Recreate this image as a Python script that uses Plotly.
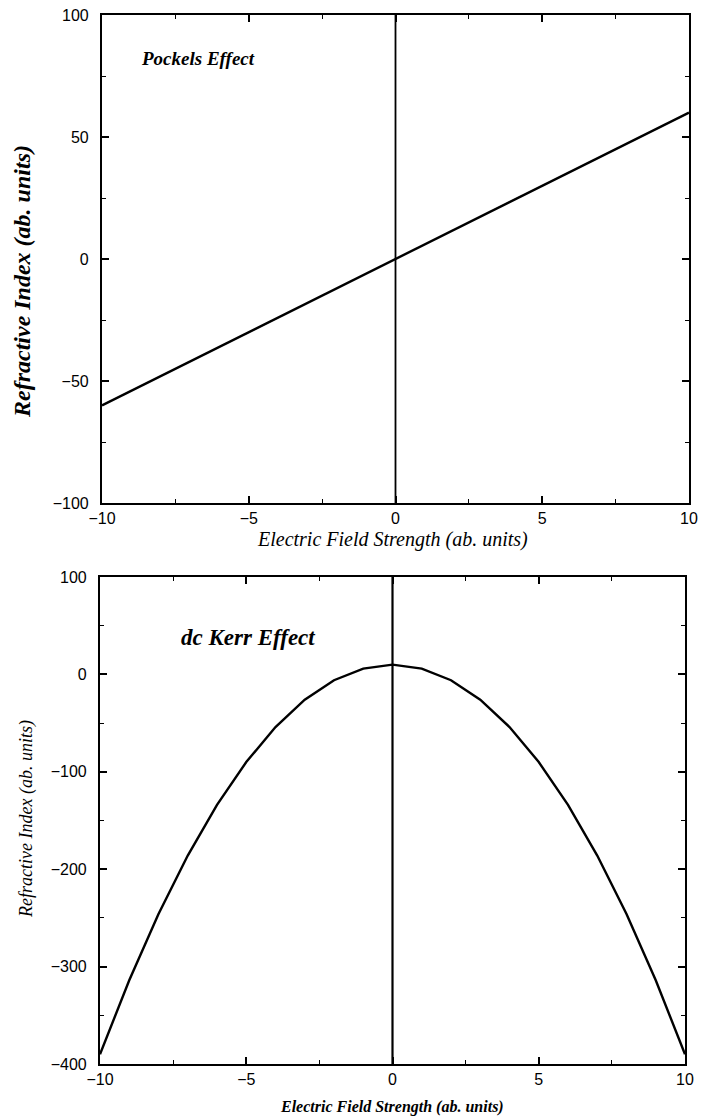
import plotly.graph_objects as go

# Pockels effect: linear response of refractive index to field
pockels_field = [-10, -5, 0, 5, 10]
pockels_index = [-60, -30, 0, 30, 60]

# dc Kerr effect: quadratic response
kerr_field = [-10, -9, -8, -7, -6, -5, -4, -3, -2, -1, 0, 1, 2, 3, 4, 5, 6, 7, 8, 9, 10]
kerr_index = [-390, -314, -246, -186, -134, -90, -54, -26, -6, 6, 10,
              6, -6, -26, -54, -90, -134, -186, -246, -314, -390]

x_ticks = [-10, -5, 0, 5, 10]
top_y_ticks = [-100, -50, 0, 50, 100]
bottom_y_ticks = [-400, -300, -200, -100, 0, 100]

W, H = 701, 1120
serif = "Liberation Serif"
sans = "Liberation Sans"

fig = go.Figure()

# zero-field marker lines
fig.add_trace(go.Scatter(x=[0, 0], y=[-100, 100], mode="lines",
                         line=dict(color="black", width=1.8),
                         xaxis="x", yaxis="y", hoverinfo="skip"))
fig.add_trace(go.Scatter(x=pockels_field, y=pockels_index, mode="lines",
                         line=dict(color="black", width=2.4),
                         xaxis="x", yaxis="y"))
fig.add_trace(go.Scatter(x=[0, 0], y=[-400, 100], mode="lines",
                         line=dict(color="black", width=2.2),
                         xaxis="x2", yaxis="y2", hoverinfo="skip"))
fig.add_trace(go.Scatter(x=kerr_field, y=kerr_index, mode="lines",
                         line=dict(color="black", width=2.4),
                         xaxis="x2", yaxis="y2"))


def ax(rng, ticks, domain, anchor, minor_dtick, standoff):
    return dict(
        range=rng, domain=domain, anchor=anchor, automargin=False,
        tickmode="array", tickvals=ticks, ticktext=[str(t).replace("-", "\u2212") for t in ticks],
        ticks="inside", ticklen=7, tickwidth=1.6, tickcolor="black",
        minor=dict(ticks="inside", ticklen=4, tickwidth=1.3, tickcolor="black",
                   dtick=minor_dtick, tick0=rng[0], showgrid=False),
        showline=True, linecolor="black", linewidth=2.2, mirror="ticks",
        showgrid=False, zeroline=False,
        tickfont=dict(family=sans, size=16, color="black"),
        ticklabelstandoff=standoff,
    )


top_x = [102 / W, 689 / W]
top_y = [1 - 503 / H, 1 - 15 / H]
bot_x = [100 / W, 685 / W]
bot_y = [1 - 1064 / H, 1 - 577 / H]

fig.update_layout(
    width=W, height=H,
    margin=dict(l=0, r=0, t=0, b=0),
    paper_bgcolor="white", plot_bgcolor="white",
    showlegend=False,
    xaxis=ax([-10, 10], x_ticks, top_x, "y", 2.5, 0),
    yaxis=ax([-100, 100], top_y_ticks, top_y, "x", 25, 8),
    xaxis2=ax([-10, 10], x_ticks, bot_x, "y2", 2.5, 0),
    yaxis2=ax([-400, 100], bottom_y_ticks, bot_y, "x2", 50, 8),
)

annotations = [
    dict(text="<b><i>Pockels Effect</i></b>", x=-8.75, y=82, xref="x", yref="y",
         xanchor="left", yanchor="middle", showarrow=False,
         font=dict(family=serif, size=19, color="black")),
    dict(text="<b><i>dc Kerr Effect</i></b>", x=-7.3, y=38, xref="x2", yref="y2",
         xanchor="left", yanchor="middle", showarrow=False,
         font=dict(family=serif, size=23, color="black")),
    dict(text="<i>Electric Field Strength (ab. units)</i>", x=392 / W, y=1 - 539 / H,
         xref="paper", yref="paper", xanchor="center", yanchor="middle", showarrow=False,
         font=dict(family=serif, size=20, color="black")),
    dict(text="<b><i>Refractive Index (ab. units)</i></b>", x=22 / W, y=1 - 282 / H,
         xref="paper", yref="paper", xanchor="center", yanchor="middle", showarrow=False,
         textangle=-90, font=dict(family=serif, size=24, color="black")),
    dict(text="<b><i>Electric Field Strength (ab. units)</i></b>", x=392 / W, y=1 - 1107 / H,
         xref="paper", yref="paper", xanchor="center", yanchor="middle", showarrow=False,
         font=dict(family=serif, size=16, color="black")),
    dict(text="<i>Refractive Index (ab. units)</i>", x=26 / W, y=1 - 819 / H,
         xref="paper", yref="paper", xanchor="center", yanchor="middle", showarrow=False,
         textangle=-90, font=dict(family=serif, size=18, color="black")),
]
fig.update_layout(annotations=annotations)

fig.write_html("out.html")
